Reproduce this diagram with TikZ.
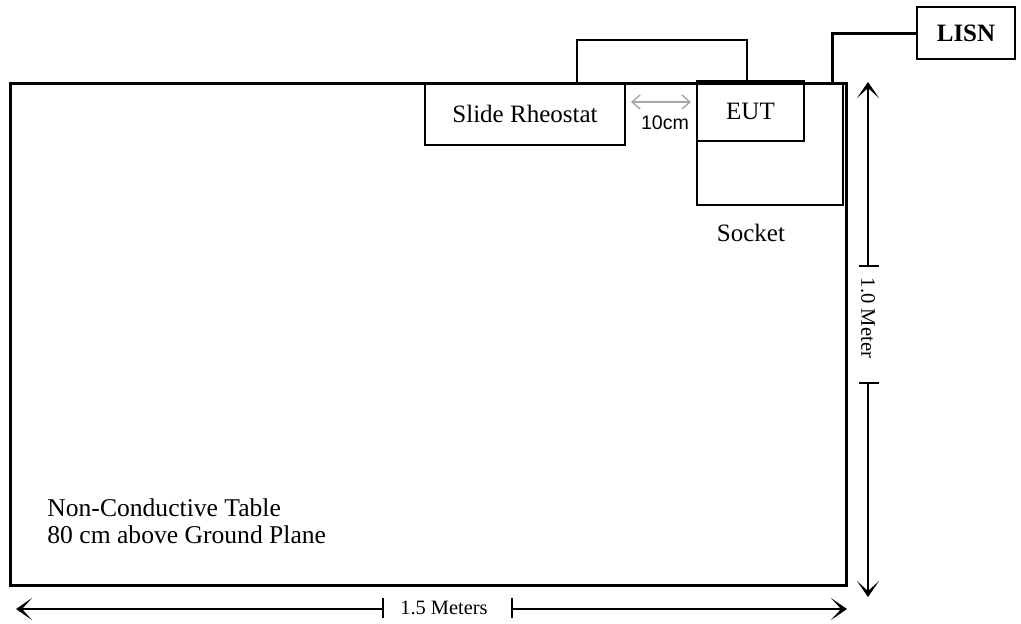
\documentclass[tikz,border=0pt]{standalone}
\usepackage{fontspec}
\setmainfont{Liberation Serif}
\newfontfamily\labelsans{Liberation Sans}
\usetikzlibrary{arrows.meta}

\tikzset{
  box/.style={draw, line width=0.7pt, inner sep=0pt, font=\fontsize{12.5}{14}\selectfont},
  dim/.style={line width=0.7pt, -{Stealth[length=8pt, width=11pt, inset=5pt]}},
  tick/.style={line width=0.7pt},
  tabletext/.style={anchor=base west, inner sep=0pt, font=\fontsize{12.8}{14}\selectfont}
}

\begin{document}
\begin{tikzpicture}[x=0.5pt, y=-0.5pt]
\useasboundingbox (0,0) rectangle (1021,623);

% table and the setup on it
\node (table) [draw, line width=1.5pt, minimum width=418pt, minimum height=251pt, inner sep=0pt] at (428,334) {};
\node (socket) [box, minimum width=73pt, minimum height=61pt] at (770,144) {};
\node (eut) [box, line width=1.2pt, minimum width=53.5pt, minimum height=30pt] at (750.5,111) {EUT};
\node (rheo) [box, minimum width=100pt, minimum height=31pt] at (525,114) {Slide Rheostat};
\node (lisn) [box, minimum width=49pt, minimum height=26pt, font=\fontsize{12.5}{14}\selectfont\bfseries] at (966,33) {LISN};
\node (socketlbl) [font=\fontsize{12.5}{14}\selectfont] at (751,233) {Socket};
\node (tablelbl) [tabletext] at (47,516) {Non-Conductive Table};
\node (heightlbl) [tabletext] at (47,543) {80 cm above Ground Plane};

% rheostat slider
\draw[line width=0.7pt] (577,83) |- (747,40) -- (747,83);

% cable to LISN
\coordinate (plug) at (832,83);
\draw[line width=1.5pt] (plug) |- (lisn.west);

% 10 cm spacing
\coordinate (gapl) at (631,102);
\coordinate (gapr) at (691,102);
\draw[gray!70, line width=0.7pt, {Straight Barb[length=4pt, width=7pt]}-{Straight Barb[length=4pt, width=7pt]}] (gapl) -- (gapr);
\node (gaplbl) [font=\labelsans\fontsize{9.8}{11}\selectfont] at (665,123) {10cm};

% 1.0 Meter
\coordinate (vtop) at (868,82);
\coordinate (vbot) at (868,597);
\node (vlbl) [rotate=-90, font=\fontsize{10.3}{12}\selectfont] at (868,318) {1.0 Meter};
\draw[tick] (859,266) -- (879,266);
\draw[tick] (859,383) -- (879,383);
\draw[dim] (868,266) -- (vtop);
\draw[dim] (868,383) -- (vbot);

% 1.5 Meters
\coordinate (hleft) at (16,609);
\coordinate (hright) at (847,609);
\node (hlbl) [font=\fontsize{10.2}{12}\selectfont] at (444,608) {1.5 Meters};
\draw[tick] (383,598) -- (383,618);
\draw[tick] (512,598) -- (512,618);
\draw[dim] (383,609) -- (hleft);
\draw[dim] (512,609) -- (hright);
\end{tikzpicture}
\end{document}
